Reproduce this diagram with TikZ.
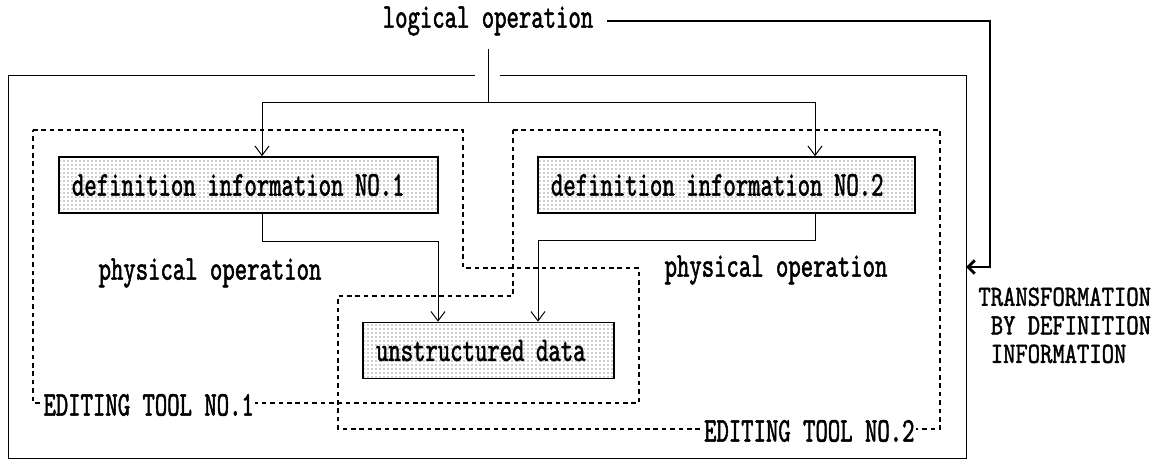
\documentclass[tikz,border=0pt]{standalone}
\usepackage{fontspec}
\usetikzlibrary{arrows.meta,patterns}
\newfontfamily\wpfont[FakeStretch=0.68,FakeBold=1.4]{lmmono10-regular.otf}
\newfontfamily\wpwidefont[FakeStretch=0.80,FakeBold=1.4]{lmmono10-regular.otf}

\tikzset{every picture/.style={line width=0.75pt}}
\tikzset{
  wptext/.style={font=\wpfont\fontsize{26pt}{21.4pt}\selectfont, inner sep=0.75pt},
  notetext/.style={font=\wpwidefont\fontsize{22pt}{21.4pt}\selectfont, inner sep=0.75pt},
  databox/.style={draw, line width=1.2pt, pattern=dots, pattern color=black!80, wptext,
    inner xsep=9.75pt, inner ysep=0pt, align=left, minimum height=42pt},
  toolline/.style={dash pattern=on 3.5pt off 2.8pt, line width=0.9pt},
  flow/.style={-{Straight Barb[length=7pt,width=10.5pt]}},
  transform/.style={line width=2.2pt, -{Straight Barb[length=5pt,width=10pt]}},
}

\begin{document}
\begin{tikzpicture}[x=0.75pt,y=0.75pt,yscale=-1,xscale=1]
    \useasboundingbox (0,0) rectangle (1167,461);

    % Text Node
    \node [wptext, inner sep=10pt] (logical) at (488,21) {logical operation};
    % Boxes
    \node [databox, text width=264.75pt] (def1) at (248.5,185) {definition information NO.1};
    \node [databox, text width=263.25pt] (def2) at (726.5,185) {definition information NO.2};
    \node [databox, text width=168.75pt] (data) at (488.5,350.5) {unstructured data};

    %Outer frame
    \draw (475,75) -- (8,75) -- (8,458) -- (966,458) -- (966,75) -- (500,75) ;

    %Editing tool outlines
    \draw [toolline] (33,130) -- (463,130) -- (463,268) -- (639,268) -- (639,403) -- (33,403) -- cycle ;
    \draw [toolline] (513,130) -- (940,130) -- (940,429) -- (338,429) -- (338,296) -- (513,296) -- cycle ;

    % Text Node
    \node [wptext, fill=white, anchor=west] (tool1) at (42,405) {EDITING TOOL NO.1};
    % Text Node
    \node [wptext, fill=white, anchor=east] (tool2) at (916,431) {EDITING TOOL NO.2};
    % Text Node
    \node [wptext] (phys1) at (210,273) {physical operation};
    % Text Node
    \node [wptext] (phys2) at (776,270) {physical operation};
    % Text Node
    \node [notetext, anchor=north west, align=left] (trans) at (977,286)
      {TRANSFORMATION\\\mbox{\ }BY DEFINITION\\\mbox{\ }INFORMATION};

    \coordinate (fork) at (488,102);
    \coordinate (inA) at (262,102);
    \coordinate (inB) at (815,102);
    \coordinate (outA) at (438,241);
    \coordinate (outB) at (538,240);
    \coordinate (turn) at (990,21);
    \coordinate (frameE) at (966,267);

    %Straight Lines
    \draw (logical.south) -- (fork) ;
    \draw [flow] (fork) -- (inA) -- (inA |- def1.north) ;
    \draw [flow] (fork) -- (inB) -- (inB |- def2.north) ;
    %Straight Lines
    \draw [flow] (inA |- def1.south) |- (outA) -- (outA |- data.north) ;
    \draw [flow] (inB |- def2.south) |- (outB) -- (outB |- data.north) ;
    %Straight Lines
    \draw [transform] (logical.east) -- (turn) |- (frameE) ;

\end{tikzpicture}
\end{document}
